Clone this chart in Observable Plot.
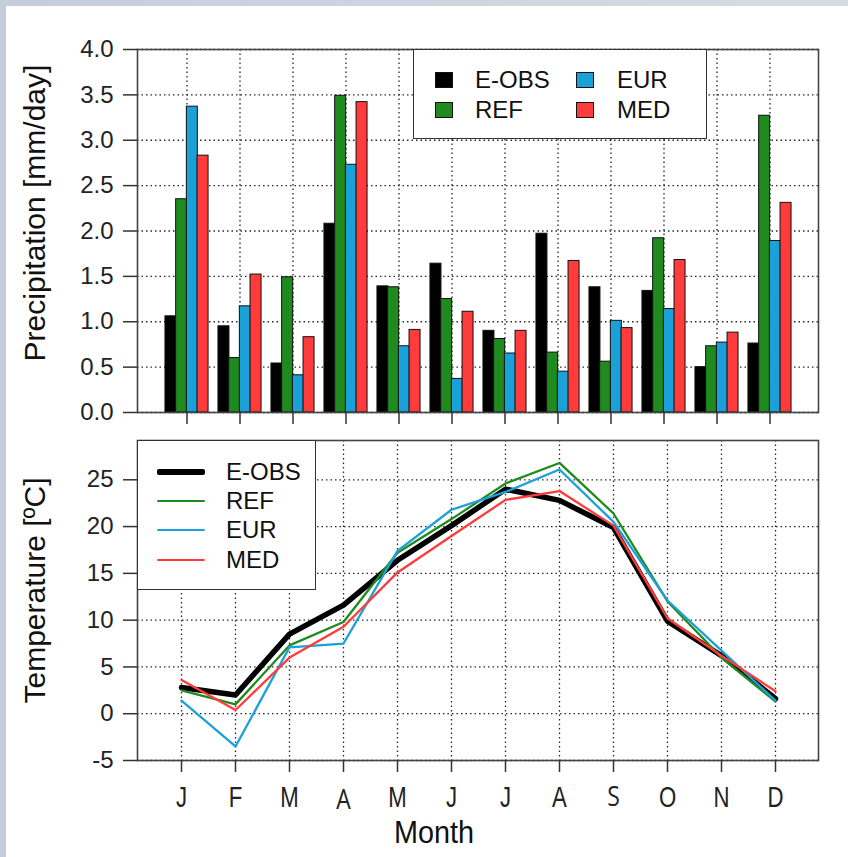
<!DOCTYPE html>
<html>
<head>
<meta charset="utf-8">
<script src="https://cdn.jsdelivr.net/npm/d3@7"></script>
<script src="https://cdn.jsdelivr.net/npm/@observablehq/plot@0.6"></script>
<style>
  html, body { margin: 0; padding: 0; }
  body { width: 848px; height: 857px; position: relative; overflow: hidden;
         background: linear-gradient(90deg, #c4cedb 0%, #d6dce4 100%);
         font-family: "Liberation Sans", Arial, sans-serif; color: #111; }
  #panel { position: absolute; left: 6px; top: 6px; width: 842px; height: 851px; background: #fff; }
  #top, #bot { position: absolute; left: 0; }
  #top { top: 0; }
  #bot { top: 425px; }
  .lbox { position: absolute; background: #fff; border: 1.5px solid #333; box-sizing: border-box; }
  .ltxt { position: absolute; font-size: 24px; line-height: 24px; transform: translateY(-50%); white-space: nowrap; color: #111; }
  .sw { position: absolute; box-sizing: border-box; border: 1px solid #111; }
  .ln { position: absolute; border-radius: 2px; }
</style>
</head>
<body>
<div id="panel"></div>
<div id="top"></div>
<div id="bot"></div>
<script>
// ---------- data ----------
const months = ["Jan","Feb","Mar","Apr","May","Jun","Jul","Aug","Sep","Oct","Nov","Dec"];
const monthLabels = ["J","F","M","A","M","J","J","A","S","O","N","D"];
const seriesNames = ["E-OBS","REF","EUR","MED"];
const seriesColors = ["#000000","#1f8b1f","#1aa1da","#ff3b3b"];

const precipEOBS = [1.06,0.95,0.54,2.08,1.39,1.64,0.90,1.97,1.38,1.34,0.50,0.76];
const precipREF  = [2.35,0.60,1.49,3.49,1.38,1.25,0.81,0.66,0.56,1.92,0.73,3.27];
const precipEUR  = [3.37,1.17,0.41,2.73,0.73,0.37,0.65,0.45,1.01,1.14,0.77,1.89];
const precipMED  = [2.83,1.52,0.83,3.42,0.91,1.11,0.90,1.67,0.93,1.68,0.88,2.31];

const tempEOBS = [2.8,2.0,8.5,11.6,16.4,20.1,24.0,22.8,19.9,9.9,6.2,1.6];
const tempREF  = [2.5,1.0,7.3,9.8,17.2,20.8,24.6,26.8,21.4,12.0,6.0,1.3];
const tempEUR  = [1.4,-3.5,7.1,7.5,17.4,21.8,23.7,26.1,20.5,12.1,6.75,1.4];
const tempMED  = [3.6,0.4,6.0,9.3,15.1,19.0,22.85,23.8,20.1,10.2,6.2,2.4];

const precipTicks = [0,0.5,1,1.5,2,2.5,3,3.5,4];
const tempTicks = [-5,0,5,10,15,20,25];

// ---------- shared style ----------
const W = 848, ML = 137, MR = 30;
const gridStyle = {stroke: "#111", strokeOpacity: 0.9, strokeWidth: 1.3, strokeDasharray: "1.5,3"};
const baseStyle = {fontFamily: "'Liberation Sans', Arial, sans-serif", fontSize: "24px", color: "#222", background: "transparent", overflow: "visible"};

// ---------- top: precipitation bars ----------
const padInner = 0.8, padOuter = 0.765;
const bw = (W - ML - MR) / (months.length - padInner + 2 * padOuter) * (1 - padInner);
const precip = [precipEOBS, precipREF, precipEUR, precipMED];

const barMarks = precip.map((arr, k) =>
  Plot.barY(months.map((m, i) => ({month: m, value: arr[i]})), {
    x: "month", y: "value", fill: seriesColors[k], stroke: "#111", strokeWidth: 1,
    dx: (k - 1.5) * bw
  })
);

const topPlot = Plot.plot({
  width: W, height: 425,
  marginLeft: ML, marginRight: MR, marginTop: 49, marginBottom: 13,
  style: baseStyle,
  x: {type: "band", domain: months, paddingInner: padInner, paddingOuter: padOuter, label: null},
  y: {domain: [0, 4], label: null},
  marks: [
    Plot.gridY({ticks: precipTicks, ...gridStyle}),
    Plot.gridX({...gridStyle}),
    ...barMarks,
    Plot.frame({stroke: "#444", strokeWidth: 1.6}),
    Plot.axisY({ticks: precipTicks, tickFormat: d3.format(".1f"), tickSize: 14, tickPadding: 10, label: null, fontSize: 24, stroke: "#333", strokeWidth: 1.5}),
    Plot.axisX({tickSize: 12, tickFormat: () => "", label: null, stroke: "#333", strokeWidth: 1.5}),
    Plot.text(["Precipitation [mm/day]"], {frameAnchor: "left", textAnchor: "middle", lineAnchor: "middle", text: d => d, rotate: -90, dx: -102, dy: -18, fontSize: 30, fill: "#111"})
  ]
});
document.getElementById("top").appendChild(topPlot);

// ---------- bottom: temperature lines ----------
const temps = [tempEOBS, tempREF, tempEUR, tempMED];
const lineWidths = [5.5, 2.3, 2.3, 2.3];
const lineMarks = temps.map((arr, k) =>
  Plot.line(months.map((m, i) => ({month: m, value: arr[i]})), {
    x: "month", y: "value", stroke: seriesColors[k], strokeWidth: lineWidths[k],
    strokeLinejoin: "round", strokeLinecap: "round"
  })
);

const botPlot = Plot.plot({
  width: W, height: 432,
  marginLeft: ML, marginRight: MR, marginTop: 15, marginBottom: 97,
  style: baseStyle,
  x: {type: "point", domain: months, padding: 0.736, label: null},
  y: {domain: [-5, 29.2], label: null},
  marks: [
    Plot.gridY({ticks: tempTicks, ...gridStyle}),
    Plot.gridX({...gridStyle}),
    ...lineMarks,
    Plot.frame({stroke: "#444", strokeWidth: 1.6}),
    Plot.axisY({ticks: tempTicks, tickFormat: d => String(d), tickSize: 14, tickPadding: 10, label: null, fontSize: 24, stroke: "#333", strokeWidth: 1.5}),
    Plot.axisX({tickSize: 12, tickPadding: 13, tickFormat: m => monthLabels[months.indexOf(m)], label: null,
                fontSize: 30, stroke: "#333", strokeWidth: 1.5}),
    Plot.text(["Temperature [ºC]"], {frameAnchor: "left", textAnchor: "middle", lineAnchor: "middle", text: d => d, rotate: -90, dx: -102, dy: -10, fontSize: 30, fill: "#111"}),
    Plot.text(["Month"], {frameAnchor: "bottom", textAnchor: "middle", lineAnchor: "middle", text: d => d, dx: -44, dy: 73, fontSize: 31, fill: "#111"})
  ]
});
document.getElementById("bot").appendChild(botPlot);

// condensed look of the month letters; "A" (April) and "S" use a different face in the original
const xLabels = botPlot.querySelectorAll('g[aria-label="x-axis tick label"] text');
xLabels.forEach((t, i) => {
  const tr = t.getAttribute("transform") || "";
  if (i === 3 || i === 8) {
    t.setAttribute("font-family", "'Open Sans', 'DejaVu Sans', sans-serif");
    t.setAttribute("font-size", "27");
    t.setAttribute("transform", tr + (i === 3 ? " translate(0,4) scale(0.85,1)" : " translate(0,1) scale(0.85,1)"));
  } else {
    t.setAttribute("transform", tr + " scale(0.74,1)");
  }
});
botPlot.querySelectorAll("text").forEach(t => {
  if (t.textContent === "Month") {
    t.setAttribute("textLength", "80");
    t.setAttribute("lengthAdjust", "spacingAndGlyphs");
  }
});

// ---------- legends ----------
function el(cls, css, text) {
  const d = document.createElement("div");
  d.className = cls;
  Object.assign(d.style, css);
  if (text) d.textContent = text;
  document.body.appendChild(d);
  return d;
}
// top legend (bars)
el("lbox", {left: "413px", top: "49px", width: "294px", height: "90px"});
const colSw = [435, 576], colTx = [475, 617], rowY = [80, 110];
seriesNames.forEach((s, k) => {
  const c = Math.floor(k / 2), r = k % 2;
  el("sw", {left: colSw[c] + "px", top: (rowY[r] - 8) + "px", width: "18px", height: "16px", background: seriesColors[k]});
  el("ltxt", {left: colTx[c] + "px", top: rowY[r] + "px"}, s);
});
// bottom legend (lines)
el("lbox", {left: "137px", top: "440px", width: "179px", height: "150px"});
const lrowY = [472, 501, 530, 560];
seriesNames.forEach((s, k) => {
  const h = k === 0 ? 6 : 2.5;
  el("ln", {left: "157px", top: (lrowY[k] - h / 2) + "px", width: "48px", height: h + "px", background: seriesColors[k]});
  el("ltxt", {left: "226px", top: lrowY[k] + "px"}, s);
});
</script>
</body>
</html>
